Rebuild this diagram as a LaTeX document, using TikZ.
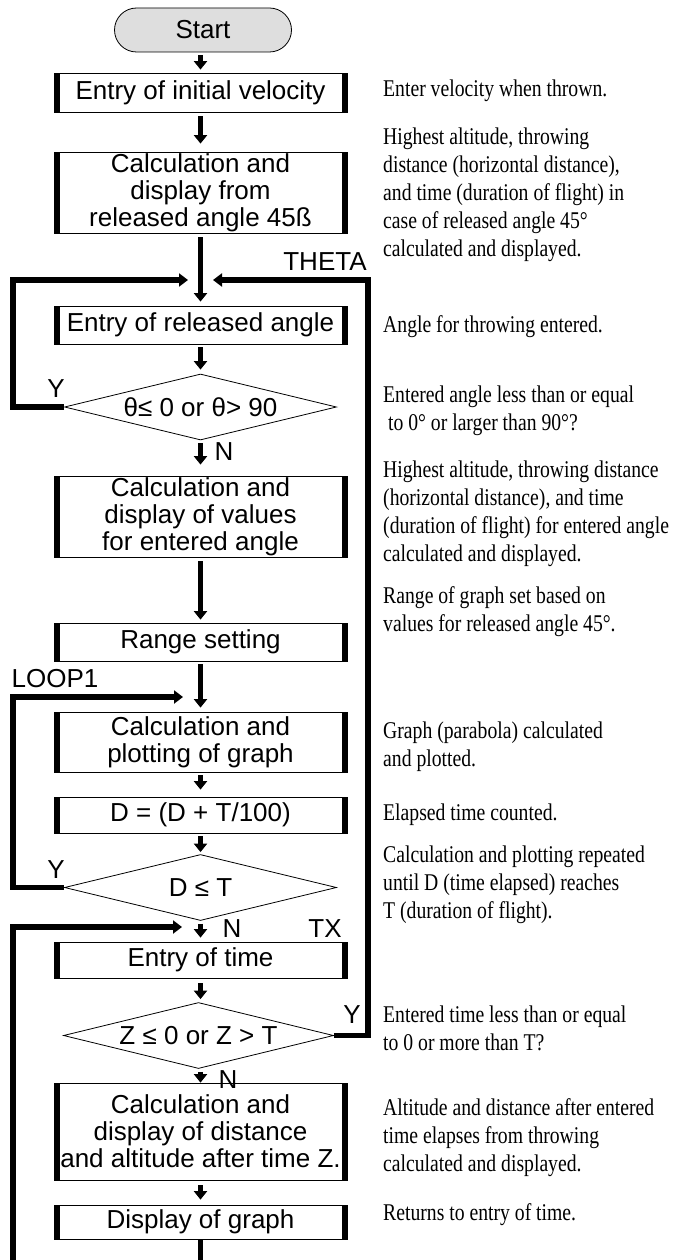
\documentclass[tikz,border=0pt]{standalone}
\usepackage{fontspec}
\usetikzlibrary{arrows.meta,shapes.geometric}
\newfontfamily\boxfont{Liberation Sans}
\newfontfamily\annfont[FakeStretch=0.82]{Liberation Serif}
\begin{document}
\begin{tikzpicture}[x=1pt,y=-1pt,
  boxtext/.style={font=\boxfont\fontsize{26}{27}\selectfont},
  procbox/.style={boxtext, draw, line width=0.8pt, minimum width=293pt, inner xsep=1pt, inner ysep=0pt, align=center,
    path picture={\fill (path picture bounding box.south west) rectangle ([xshift=5.5pt]path picture bounding box.north west);
                  \fill ([xshift=-5.5pt]path picture bounding box.south east) rectangle (path picture bounding box.north east);}},
  decision/.style={boxtext, draw, shape=diamond, aspect=4.1, line width=0.8pt, minimum width=272pt, minimum height=66pt, inner sep=0pt},
  terminal/.style={boxtext, draw, rounded corners=22pt, fill=black!13, line width=0.8pt, minimum width=177pt, minimum height=44pt, inner sep=0pt},
  lbl/.style={boxtext, inner sep=0pt},
  ann/.style={anchor=base west, inner sep=0pt, font=\annfont\fontsize{24}{28}\selectfont},
  flow/.style={line width=5.5pt, -{Triangle[width=13pt,length=8.5pt]}},
  loopl/.style={line width=5.5pt, line join=miter, -{Triangle[width=13pt,length=9pt]}},
  plainl/.style={line width=5.5pt, line join=miter}
]
\fill[white] (0,0) rectangle (673,1260);
\useasboundingbox (0,0) rectangle (673,1260);

% nodes
\node[terminal] (start) at (203,30) {Start};
\node[procbox, minimum height=39pt] (e1) at (200.5,92.5) {Entry of initial velocity};
\node[procbox, minimum height=81pt] (c45) at (200.5,192.5) {Calculation and\\display from\\released angle 45ß};
\node[procbox, minimum height=38pt] (era) at (200.5,325) {Entry of released angle};
\node[decision] (d1) at (200.5,407) {θ≤ 0 or θ> 90};
\node[procbox, minimum height=81pt] (cv) at (200.5,516.5) {Calculation and\\display of values\\for entered angle};
\node[procbox, minimum height=38pt] (rg) at (200.5,642) {Range setting};
\node[procbox, minimum height=60pt] (cp) at (200.5,742) {Calculation and\\plotting of graph};
\node[procbox, minimum height=36pt] (dd) at (200.5,815) {D = (D + T/100)};
\node[decision] (d2) at (200.5,887.5) {D ≤ T};
\node[procbox, minimum height=36pt] (et) at (200.5,960) {Entry of time};
\node[decision, minimum width=270pt] (d3) at (198.5,1035.5) {Z ≤ 0 or Z > T};
\node[procbox, minimum height=97pt] (cd) at (200.5,1131.5) {Calculation and\\display of distance\\and altitude after time Z.};
\node[procbox, minimum height=34pt] (dg) at (200.5,1222) {Display of graph};

% labels
\node[lbl] (theta) at (325,262) {THETA};
\node[lbl] (y1) at (56,389) {Y};
\node[lbl] (n1) at (224,452) {N};
\node[lbl] (loop1) at (55,679) {LOOP1};
\node[lbl] (y2) at (56,870) {Y};
\node[lbl] (n2) at (232,929) {N};
\node[lbl] (tx) at (325,929) {TX};
\node[lbl] (y3) at (352,1015) {Y};
\node[lbl] (n3) at (228,1080) {N};

% helper coordinates
\coordinate (lt1) at (13,280);
\coordinate (tip1) at (188,280);
\coordinate (rt1) at (368,280);
\coordinate (tip2) at (213,280);
\coordinate (lt2) at (13,697);
\coordinate (tip3) at (183,697);
\coordinate (lt3) at (13,927);
\coordinate (tip4) at (182,927);
\coordinate (lb) at (13,1262);
\coordinate (bm) at (200.5,1262);

% main flow
\draw[flow, shorten <=3pt, shorten >=3pt] (e1.north |- start.south) -- (e1.north);
\draw[flow, shorten <=4pt, shorten >=8pt] (e1.south) -- (c45.north);
\draw[flow, shorten <=4pt, shorten >=4pt] (c45.south) -- (era.north);
\draw[flow, shorten <=3pt, shorten >=4pt] (era.south) -- (d1.north);
\draw[flow, shorten <=3pt, shorten >=11pt] (d1.south) -- (cv.north);
\draw[flow, shorten <=4pt, shorten >=3pt] (cv.south) -- (rg.north);
\draw[flow, shorten <=3pt, shorten >=4pt] (rg.south) -- (cp.north);
\draw[flow, shorten <=3pt, shorten >=7pt] (cp.south) -- (dd.north);
\draw[flow, shorten <=3pt, shorten >=2pt] (dd.south) -- (d2.north);
\draw[flow, shorten <=3pt, shorten >=4pt] (d2.south) -- (et.north);
\draw[flow, shorten <=5pt, shorten >=3pt] (et.south) -- (et.south |- d3.north);
\draw[flow, shorten <=3pt, shorten >=0pt] (cd.north |- d3.south) -- (cd.north);
\draw[flow, shorten <=5pt, shorten >=5pt] (cd.south) -- (dg.north);
\draw[plainl] (dg.south) -- (bm);

% loops
\draw[loopl] (d1.west) -| (lt1) -- (tip1);
\draw[loopl] (d3.east) -| (rt1) -- (tip2);
\draw[loopl] (d2.west) -| (lt2) -- (tip3);
\draw[loopl] (lb) -- (lt3) -- (tip4);

% annotations
\node[ann] (a1) at (383,97) {Enter velocity when thrown.};
\node[ann] (a2) at (383,145) {\begin{tabular}[t]{@{}l@{}}Highest altitude, throwing\\distance (horizontal distance),\\and time (duration of flight) in\\case of released angle 45°\\calculated and displayed.\end{tabular}};
\node[ann] (a3) at (383,332) {Angle for throwing entered.};
\node[ann] (a4) at (383,402) {\begin{tabular}[t]{@{}l@{}}Entered angle less than or equal\\\ to 0° or larger than 90°?\end{tabular}};
\node[ann] (a5) at (383,477) {\begin{tabular}[t]{@{}l@{}}Highest altitude, throwing distance\\(horizontal distance), and time\\(duration of flight) for entered angle\\calculated and displayed.\end{tabular}};
\node[ann] (a6) at (383,603) {\begin{tabular}[t]{@{}l@{}}Range of graph set based on\\values for released angle 45°.\end{tabular}};
\node[ann] (a7) at (383,738) {\begin{tabular}[t]{@{}l@{}}Graph (parabola) calculated\\and plotted.\end{tabular}};
\node[ann] (a8) at (383,820) {Elapsed time counted.};
\node[ann] (a9) at (383,862) {\begin{tabular}[t]{@{}l@{}}Calculation and plotting repeated\\until D (time elapsed) reaches\\T (duration of flight).\end{tabular}};
\node[ann] (a10) at (383,1022) {\begin{tabular}[t]{@{}l@{}}Entered time less than or equal\\to 0 or more than T?\end{tabular}};
\node[ann] (a11) at (383,1115) {\begin{tabular}[t]{@{}l@{}}Altitude and distance after entered\\time elapses from throwing\\calculated and displayed.\end{tabular}};
\node[ann] (a12) at (383,1220) {Returns to entry of time.};
\end{tikzpicture}
\end{document}
